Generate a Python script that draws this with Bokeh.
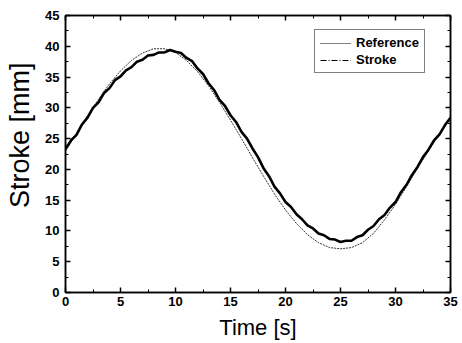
from bokeh.plotting import figure
from bokeh.models import LinearAxis, SingleIntervalTicker, Range1d, Legend, LegendItem
from bokeh.embed import file_html
from bokeh.resources import INLINE

# Reference signal, 1 s steps
ref_t = list(range(0, 36))
ref_v = [23.0, 25.8, 28.7, 31.4, 33.9, 36.0, 37.7, 38.9, 39.6, 39.6,
         39.0, 37.7, 35.9, 33.6, 30.9, 28.0, 25.0, 21.9, 18.9, 16.0,
         13.4, 11.2, 9.4, 8.1, 7.3, 7.1, 7.3, 8.1, 9.6, 11.8,
         14.3, 17.2, 20.2, 23.0, 25.7, 28.4]

# Measured stroke, 0.5 s steps
stroke_t = [i * 0.5 for i in range(71)]
stroke_v = [23.3, 24.7, 25.6, 27.3, 28.4, 30.0, 30.9, 32.4, 33.2, 34.5,
            35.1, 36.1, 36.6, 37.5, 37.8, 38.5, 38.6, 39.0, 39.0, 39.4,
            39.1, 38.9, 38.1, 37.6, 36.4, 35.5, 34.0, 32.9, 31.3, 30.3,
            28.8, 27.7, 26.1, 25.0, 23.4, 22.0, 20.2, 18.9, 17.2, 16.1,
            14.7, 13.9, 12.7, 11.9, 10.9, 10.4, 9.6, 9.3, 8.7, 8.6,
            8.2, 8.4, 8.4, 9.0, 9.3, 10.2, 10.8, 11.9, 12.6, 13.8,
            14.7, 16.3, 17.5, 19.1, 20.4, 22.0, 23.2, 24.7, 25.7, 27.2, 28.4]

legend_labels = ["Reference", "Stroke"]
FONT = "Liberation Sans"

p = figure(width=462, height=343, output_backend="svg", toolbar_location=None,
           x_range=Range1d(0, 35), y_range=Range1d(0, 45),
           min_border_left=65, min_border_right=12, min_border_top=15, min_border_bottom=51,
           x_axis_label="Time [s]",
           y_axis_label="\u00a0" * 5 + "Stroke [mm]")
p.grid.visible = False
p.outline_line_color = "black"
p.outline_line_width = 1.5
p.background_fill_color = "white"
p.border_fill_color = "white"

p.xaxis.ticker = SingleIntervalTicker(interval=5, num_minor_ticks=2)
p.yaxis.ticker = SingleIntervalTicker(interval=5, num_minor_ticks=2)

for ax in [p.xaxis[0], p.yaxis[0]]:
    ax.axis_line_width = 1.5
    ax.major_tick_in = 5
    ax.major_tick_out = 0
    ax.minor_tick_in = 3
    ax.minor_tick_out = 0
    ax.major_tick_line_width = 1.5
    ax.major_label_text_font = FONT
    ax.major_label_text_font_size = "13px"
    ax.major_label_text_font_style = "bold"
    ax.major_label_text_color = "black"
    ax.axis_label_text_font = FONT
    ax.axis_label_text_font_style = "normal"
    ax.axis_label_text_color = "black"
p.xaxis.axis_label_text_font_size = "22px"
p.yaxis.axis_label_text_font_size = "27px"
p.xaxis.major_label_standoff = 4
p.xaxis.axis_label_standoff = 6
p.yaxis.major_label_standoff = 6
p.yaxis.axis_label_standoff = 7

for loc in ["right", "above"]:
    ax = LinearAxis(ticker=SingleIntervalTicker(interval=5, num_minor_ticks=2))
    ax.axis_line_width = 1.5
    ax.major_tick_in = 5
    ax.major_tick_out = 0
    ax.minor_tick_in = 3
    ax.minor_tick_out = 0
    ax.major_tick_line_width = 1.5
    ax.major_label_text_color = None
    ax.major_label_text_font_size = "1px"
    ax.major_label_standoff = 0
    p.add_layout(ax, loc)

p.line(ref_t, ref_v, line_color="#333333", line_width=1, line_dash="2 1")
p.line(stroke_t, stroke_v, line_color="black", line_width=2.6)

# legend-only sample glyphs (kept outside the visible range)
r1 = p.line([-10, -9], [-10, -9], line_color="black", line_width=1, line_dash="1 1")
r2 = p.line([-10, -9], [-10, -9], line_color="black", line_width=1, line_dash="6 2 1 2")
leg = Legend(items=[LegendItem(label=legend_labels[0], renderers=[r1]),
                    LegendItem(label=legend_labels[1], renderers=[r2])],
             location=(249, 219))
leg.border_line_color = "black"
leg.border_line_width = 1.2
leg.background_fill_alpha = 1
leg.label_text_font = FONT
leg.label_text_font_size = "13px"
leg.label_text_font_style = "bold"
leg.label_text_color = "black"
leg.glyph_width = 31
leg.glyph_height = 14
leg.label_height = 14
leg.label_standoff = 5
leg.spacing = 2
leg.padding = 5
leg.margin = 0
p.add_layout(leg, "center")

open("out.html", "w").write(file_html(p, INLINE))
